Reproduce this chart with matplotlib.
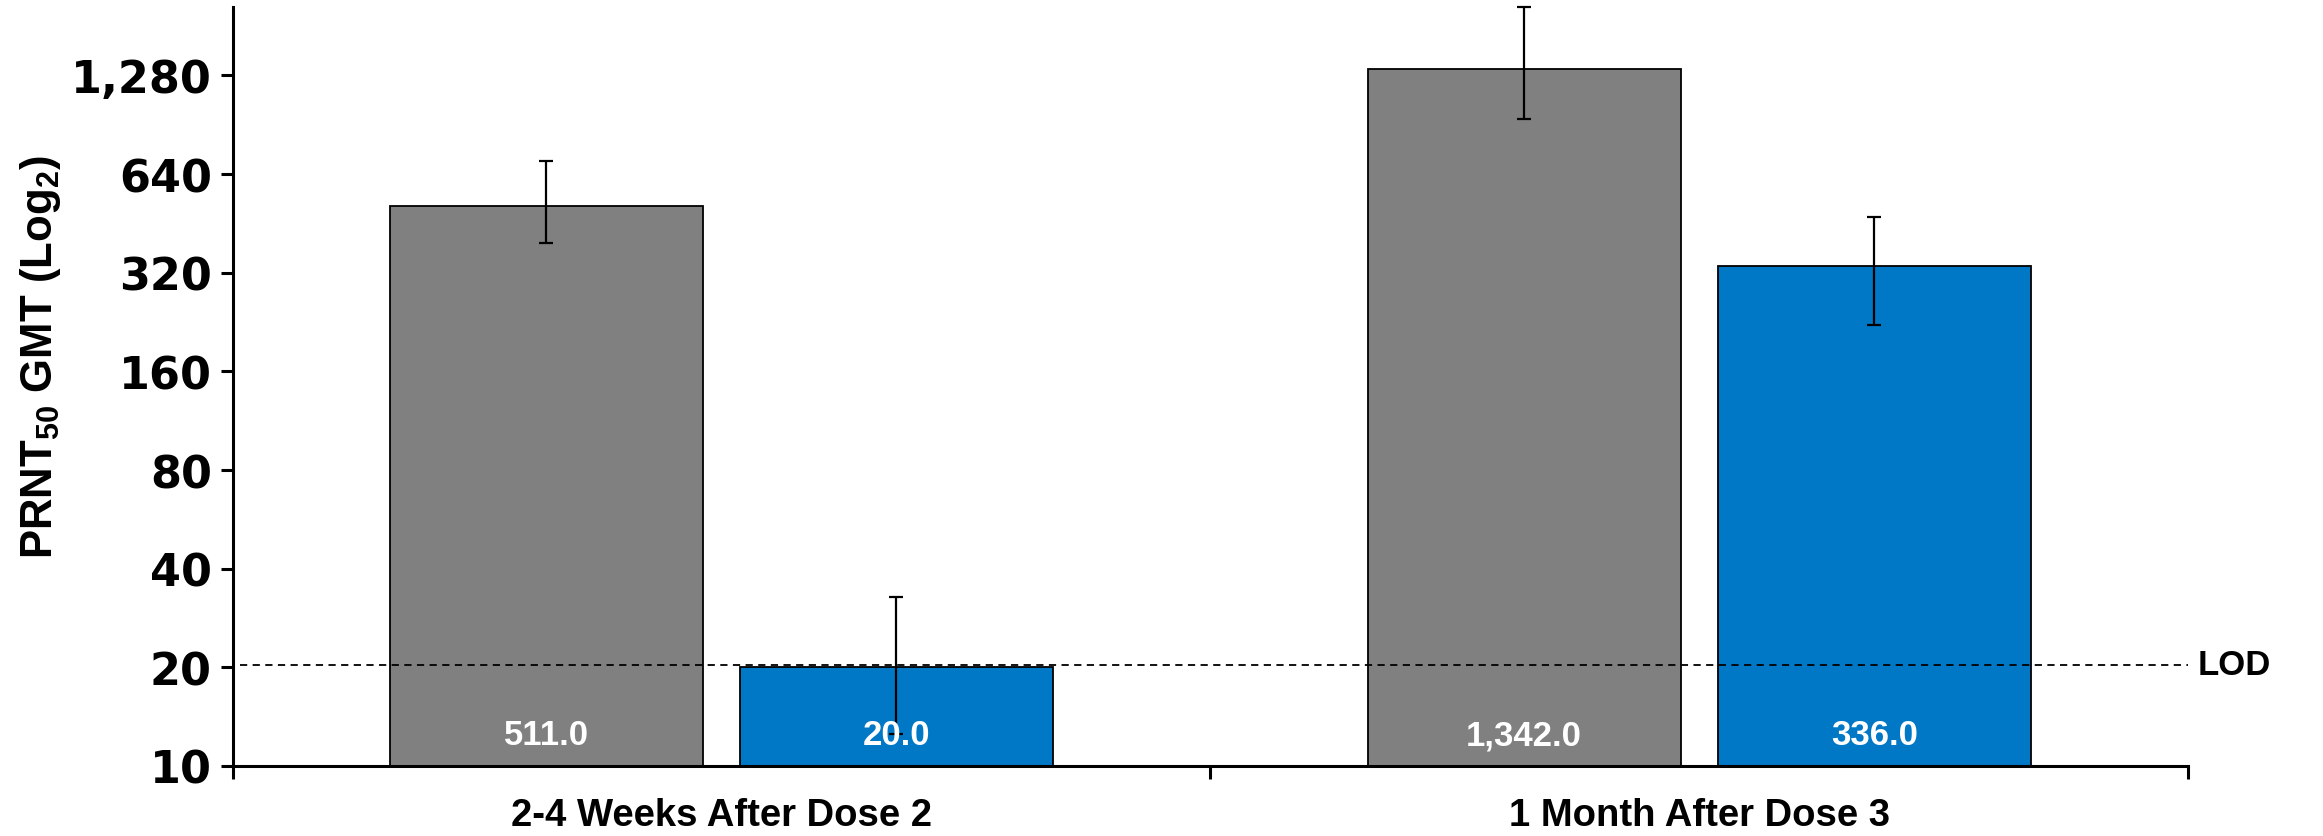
import matplotlib
matplotlib.use("Agg")
import matplotlib.pyplot as plt
from matplotlib.ticker import FixedLocator, FuncFormatter
import numpy as np

plt.rcParams["mathtext.fontset"] = "custom"
plt.rcParams["mathtext.rm"] = "Liberation Sans:bold"
plt.rcParams["mathtext.bf"] = "Liberation Sans:bold"

categories = ["2-4 Weeks After Dose 2", "1 Month After Dose 3"]
series_gray = [511.0, 1342.0]
series_blue = [20.0, 336.0]
gray_err_low = [394, 940]
gray_err_high = [701, 2070]
blue_err_low = [12.5, 221.6]
blue_err_high = [32.7, 475]
ytick_values = [10, 20, 40, 80, 160, 320, 640, 1280]
lod_value = 20.4

W, H, DPI = 2323, 837, 100
fig = plt.figure(figsize=(W / DPI, H / DPI), dpi=DPI)
ax = fig.add_axes([232.6 / W, 70 / H, (2188 - 232.6) / W, (767 - 8) / H])

x = np.arange(len(categories))
bw = 0.32
off = 0.179
gray_c = "#808080"
blue_c = "#0078C6"

gx = x - off
bx = x + off
ax.bar(gx, series_gray, width=bw, color=gray_c, edgecolor="black", linewidth=1.3, zorder=2)
ax.bar(bx, series_blue, width=bw, color=blue_c, edgecolor="black", linewidth=1.3, zorder=2)

g_err = [np.array(series_gray) - np.array(gray_err_low), np.array(gray_err_high) - np.array(series_gray)]
b_err = [np.array(series_blue) - np.array(blue_err_low), np.array(blue_err_high) - np.array(series_blue)]
ax.errorbar(gx, series_gray, yerr=g_err, fmt="none", ecolor="black", elinewidth=1.6, capsize=5, capthick=1.6, zorder=4, clip_on=False)
ax.errorbar(bx, series_blue, yerr=b_err, fmt="none", ecolor="black", elinewidth=1.6, capsize=5, capthick=1.6, zorder=4, clip_on=False)

ax.axhline(lod_value, xmin=0.004, xmax=1.0, color="black", linestyle=(0, (4, 3)), linewidth=1.3, zorder=3)
ax.annotate("LOD", xy=(1.0, lod_value), xycoords=("axes fraction", "data"), xytext=(7, 0),
            textcoords="offset points", ha="left", va="center", fontsize=25, fontweight="bold",
            family=["Liberation Sans", "DejaVu Sans"])

for xs, vals in ((gx, series_gray), (bx, series_blue)):
    for xi, v in zip(xs, vals):
        ax.annotate(f"{v:,.1f}", xy=(xi, 10), xytext=(0, 15.5), textcoords="offset points",
                    ha="center", va="baseline", color="white", fontsize=25, fontweight="bold",
                    family=["Liberation Sans", "DejaVu Sans"], zorder=5)

ax.set_yscale("log", base=2)
ax.set_ylim(10, 2070)
ax.set_xlim(-0.5, 1.5)
ax.yaxis.set_major_locator(FixedLocator(ytick_values))
ax.yaxis.set_minor_locator(FixedLocator([]))
ax.yaxis.set_major_formatter(FuncFormatter(lambda v, p: f"{v:,.0f}"))
ax.tick_params(axis="y", which="major", direction="out", length=9, width=2.2, pad=6, labelsize=32)
for lab in ax.get_yticklabels():
    lab.set_fontweight("bold")
    lab.set_family("DejaVu Sans")

ax.set_xticks(x)
ax.set_xticklabels(categories, fontsize=27.5, fontweight="bold", family=["Liberation Sans", "DejaVu Sans"])
ax.set_xticks([-0.5, 0.5, 1.5], minor=True)
ax.tick_params(axis="x", which="major", length=0, pad=22)
ax.tick_params(axis="x", which="minor", direction="out", length=9, width=2.2)

for s in ("top", "right"):
    ax.spines[s].set_visible(False)
for s in ("left", "bottom"):
    ax.spines[s].set_linewidth(2.2)

ax.set_ylabel(r"PRNT$_{\mathbf{50}}$ GMT (Log$_{\mathbf{2}}$)", fontsize=31.5, fontweight="bold",
              family=["Liberation Sans", "DejaVu Sans"])
ax.yaxis.set_label_coords(-0.0868, 0.54)

fig.savefig("out.png", dpi=DPI)
